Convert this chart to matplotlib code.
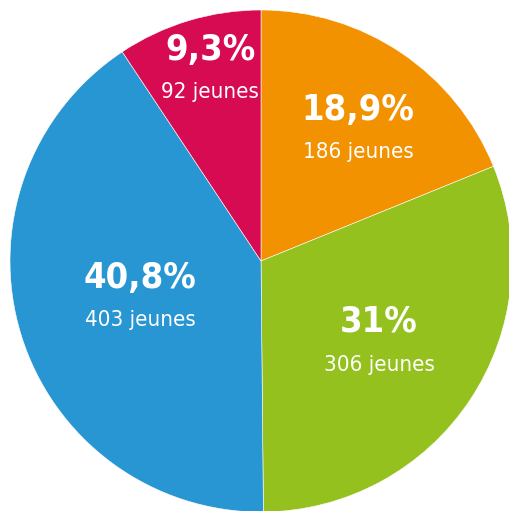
import matplotlib.pyplot as plt
import numpy as np

# donnees
labels_pct = ["18,9%", "31%", "40,8%", "9,3%"]
jeunes = [186, 306, 403, 92]
colors = ["#F39200", "#95C11F", "#2896D3", "#D60B52"]

fig = plt.figure(figsize=(5.10, 5.11), dpi=100)
ax = fig.add_axes([0, 0, 1, 1])

R = 251.0
cx, cy = 261.0, 261.0
wedges, _ = ax.pie(jeunes, colors=colors, startangle=90, counterclock=False,
                   wedgeprops=dict(linewidth=0.4, edgecolor="white"))

ax.set_xlim(-cx / R, (510 - cx) / R)
ax.set_ylim(-(511 - cy) / R, cy / R)
ax.set_aspect("equal")
ax.axis("off")

# position des etiquettes : rayon relatif et decalage d'angle
label_r = [0.646, 0.573, 0.505, 0.784]
label_da = [-2.8, -1.2, 0.4, -1.8]
for w, pct, n, r, da in zip(wedges, labels_pct, jeunes, label_r, label_da):
    a = np.deg2rad((w.theta1 + w.theta2) / 2 + da)
    x, y = r * np.cos(a), r * np.sin(a)
    ax.text(x, y + 0.085, pct, ha="center", va="center", color="white",
            fontsize=26, fontweight="bold", family="DejaVu Sans",
            fontstretch="condensed")
    ax.text(x, y - 0.085, "%d jeunes" % n, ha="center", va="center",
            color="white", fontsize=16, family="DejaVu Sans",
            fontstretch="condensed")

fig.savefig("out.png", dpi=100)
